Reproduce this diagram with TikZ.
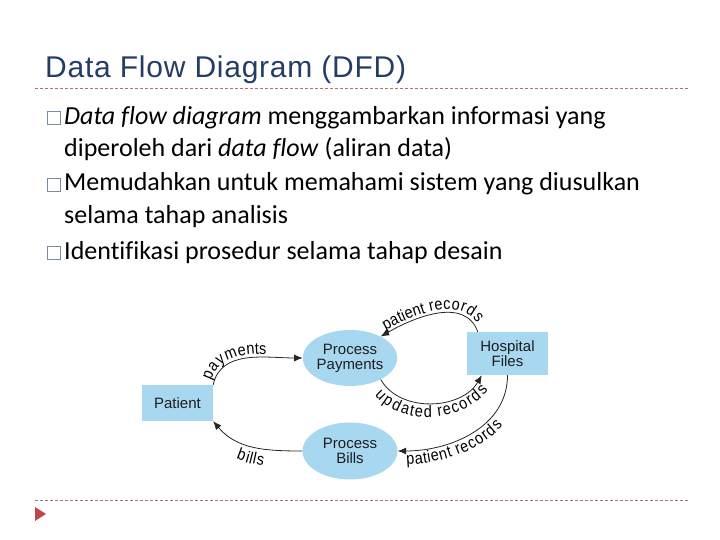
\documentclass[tikz,border=0pt]{standalone}
\usepackage{fontspec}
\setmainfont{Carlito}[Ligatures=NoCommon]
\newfontfamily\titlefont[LetterSpace=2.5]{Liberation Sans}
\newfontfamily\sansfont{Liberation Sans}
\newfontfamily\labfont[FakeStretch=0.88]{Liberation Sans}
\newcommand\lbl{\labfont\fontsize{16.5}{18}\selectfont}
\usetikzlibrary{arrows.meta,shapes.geometric,decorations.text}
\definecolor{titleblue}{RGB}{36,62,99}
\definecolor{dashred}{RGB}{176,112,112}
\definecolor{trired}{RGB}{190,70,70}
\definecolor{boxblue}{RGB}{168,215,240}
\definecolor{bulletgray}{RGB}{120,140,165}
\definecolor{nodetext}{RGB}{30,30,30}
\tikzset{
  x=1pt,y=1pt,
  sep/.style={dashred, line width=0.8pt, dash pattern=on 3pt off 2pt},
  bulletbox/.style={draw=bulletgray, line width=1.1pt, minimum size=12.5pt, inner sep=0pt},
  bodytext/.style={anchor=base west, inner sep=0pt, font=\fontsize{26}{28}\selectfont},
  ent/.style={fill=boxblue, draw=none, font=\sansfont\fontsize{15}{15}\selectfont, text=nodetext, align=center, inner sep=0pt},
  proc/.style={ellipse, fill=boxblue, draw=none, font=\sansfont\fontsize{15}{15}\selectfont, text=nodetext, align=center, inner sep=0pt},
  flow/.style={black!85, line width=0.8pt, -{Latex[length=8.5pt,width=7pt]}},
  lab/.style={decorate, decoration={text along path, text align=center, raise=#1}},
}
\begin{document}
\begin{tikzpicture}
\useasboundingbox (0,0) rectangle (720,540);
% title
\node[anchor=base west, inner sep=0pt, text=titleblue, font=\titlefont\fontsize{30}{32}\selectfont] (title) at (45,462) {Data Flow Diagram (DFD)};
\coordinate (s1a) at (35,452); \coordinate (s1b) at (688,452);
\draw[sep] (s1a) -- (s1b);
\coordinate (s2a) at (35,40); \coordinate (s2b) at (688,40);
\draw[sep] (s2a) -- (s2b);
\fill[trired] (35,33) -- (35,19) -- (46,26) -- cycle;
% bullets
\node[bulletbox] (b1) at (54,422) {};
\node[bulletbox] (b2) at (54,355) {};
\node[bulletbox] (b3) at (54,287) {};
\node[bodytext] (t1) at (64,415) {\textit{Data flow diagram} menggambarkan informasi yang};
\node[bodytext] (t2) at (64,383) {diperoleh dari \textit{data flow} (aliran data)};
\node[bodytext] (t3) at (64,349) {Memudahkan untuk memahami sistem yang diusulkan};
\node[bodytext] (t4) at (64,316) {selama tahap analisis};
\node[bodytext] (t5) at (64,280) {Identifikasi prosedur selama tahap desain};
% diagram nodes
\node[ent, minimum width=71pt, minimum height=36pt] (P) at (177.5,137) {Patient};
\node[proc, minimum width=94pt, minimum height=56pt] (PP) at (350,182) {Process\\Payments};
\node[proc, minimum width=95pt, minimum height=57pt] (PB) at (350,89) {Process\\Bills};
\node[ent, minimum width=81pt, minimum height=43pt] (HF) at (507.5,186.5) {Hospital\\Files};
\coordinate (hfTop) at ([xshift=11pt]HF.north west);
\coordinate (hfBot) at ([xshift=15pt]HF.south west);
% flows
\draw[flow] (P.north east) to[out=78,in=180] (PP.west);
\path[decorate, decoration={text along path, text={|\lbl|payments}, text align={left indent=3pt}, raise=3pt}] (P.north east) to[out=78,in=180] (PP.west);

\draw[flow] (hfTop) to[out=110,in=30] (PP.35);
\path[lab=3pt, decoration={text={|\lbl|patient records}}] (PP.35) to[out=30,in=110] (hfTop);

\draw[flow] (PP.-35) to[out=-60,in=-120] (hfBot);
\path[lab=-14pt, decoration={text={|\lbl|updated records}}] (PP.-35) to[out=-60,in=-120] (hfBot);

\draw[flow] (HF.south) to[out=-90,in=0] (PB.east);
\path[decorate, decoration={text along path, text={|\lbl|patient records}, text align={left indent=8pt}, raise=-14pt}] (PB.east) to[out=0,in=-90] (HF.south);

\draw[flow] (PB.west) to[out=180,in=-50] (P.south east);
\path[lab=-17pt, decoration={text={|\lbl|bills}}] (P.south east) to[out=-50,in=180] (PB.west);
\end{tikzpicture}
\end{document}
